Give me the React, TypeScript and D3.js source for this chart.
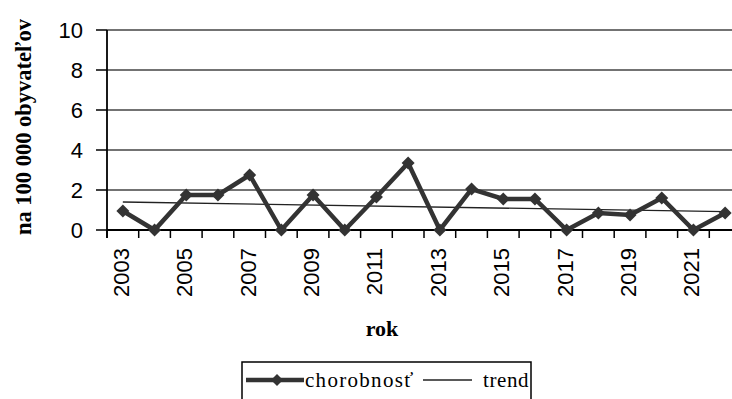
import React from "react";
import * as d3 from "d3";

// Incidence per 100 000 inhabitants, by year
const years = [2003, 2004, 2005, 2006, 2007, 2008, 2009, 2010, 2011, 2012, 2013, 2014, 2015, 2016, 2017, 2018, 2019, 2020, 2021, 2022];
const incidence = [0.95, 0, 1.75, 1.75, 2.75, 0, 1.75, 0, 1.65, 3.35, 0, 2.05, 1.55, 1.55, 0, 0.85, 0.75, 1.6, 0, 0.85];
const yTicks = [0, 2, 4, 6, 8, 10];
const labelYears = [2003, 2005, 2007, 2009, 2011, 2013, 2015, 2017, 2019, 2021];

const W = 732;
const H = 399;
const left = 107;
const top = 30;
const bottom = 230;
const step = 31.7;

export default function App() {
  const x = d3
    .scaleBand<number>()
    .domain(years)
    .range([left, left + step * years.length])
    .paddingInner(0)
    .paddingOuter(0);
  const y = d3.scaleLinear().domain([0, 10]).range([bottom, top]);
  const cx = (yr: number) => (x(yr) as number) + x.bandwidth() / 2;

  // least-squares trend over the year index
  const n = years.length;
  const idx = years.map((_, i) => i);
  const mx = d3.mean(idx) as number;
  const my = d3.mean(incidence) as number;
  const slope =
    d3.sum(idx, (i) => (i - mx) * (incidence[i] - my)) /
    d3.sum(idx, (i) => (i - mx) * (i - mx));
  const icpt = my - slope * mx;
  const trend = [0, n - 1].map((i) => ({ yr: years[i], v: icpt + slope * i }));

  const line = d3
    .line<number>()
    .x((_, i) => cx(years[i]))
    .y((d) => y(d));
  const trendLine = d3
    .line<{ yr: number; v: number }>()
    .x((d) => cx(d.yr))
    .y((d) => y(d.v));

  const diamond = (px: number, py: number, r: number) =>
    `M${px},${py - r}L${px + r},${py}L${px},${py + r}L${px - r},${py}Z`;

  const boundaries = years.map((yr) => x(yr) as number).concat([left + step * n]);

  return (
    <svg
      width={W}
      height={H}
      style={{ position: "absolute", left: 0, top: 0, background: "#fff" }}
    >
      {/* horizontal gridlines and y ticks */}
      {yTicks.map((t) => (
        <g key={t}>
          <line x1={left} x2={W} y1={y(t)} y2={y(t)} stroke="#444" strokeWidth={1.3} />
          <line x1={96} x2={left} y1={y(t)} y2={y(t)} stroke="#000" strokeWidth={1.5} />
          <text
            x={83}
            y={y(t)}
            dy="0.36em"
            textAnchor="end"
            fontFamily="Liberation Sans, Arial, sans-serif"
            fontSize={22}
            fill="#000"
          >
            {t}
          </text>
        </g>
      ))}

      {/* axes */}
      <line x1={left} x2={left} y1={top} y2={bottom + 8} stroke="#000" strokeWidth={1.8} />
      <line x1={left} x2={W} y1={bottom} y2={bottom} stroke="#000" strokeWidth={1.8} />
      {boundaries.map((bx, i) => (
        <line key={i} x1={bx} x2={bx} y1={bottom} y2={bottom + 8} stroke="#000" strokeWidth={1.5} />
      ))}

      {/* x tick labels */}
      {labelYears.map((yr) => (
        <text
          key={yr}
          transform={`translate(${cx(yr) - 2},${248}) rotate(-90)`}
          textAnchor="end"
          dy="0.36em"
          fontFamily="Liberation Sans, Arial, sans-serif"
          fontSize={22}
          fill="#000"
        >
          {yr}
        </text>
      ))}

      {/* trend */}
      <path d={trendLine(trend) as string} fill="none" stroke="#222" strokeWidth={1.3} />

      {/* incidence series */}
      <path
        d={line(incidence) as string}
        fill="none"
        stroke="#333"
        strokeWidth={4.5}
        strokeLinejoin="miter"
      />
      {incidence.map((v, i) => (
        <path key={i} d={diamond(cx(years[i]), y(v), 6.5)} fill="#333" />
      ))}

      {/* axis titles */}
      <text
        transform={`translate(23,127) rotate(-90)`}
        textAnchor="middle"
        dy="0.35em"
        fontFamily="Liberation Serif, Times New Roman, serif"
        fontWeight="bold"
        fontSize={22.5}
        fill="#000"
      >
        na 100 000 obyvateľov
      </text>
      <text
        x={382}
        y={336}
        textAnchor="middle"
        fontFamily="Liberation Serif, Times New Roman, serif"
        fontWeight="bold"
        fontSize={22}
        fill="#000"
      >
        rok
      </text>

      {/* legend */}
      <rect x={242} y={362} width={289} height={50} fill="#fff" stroke="#000" strokeWidth={1.5} />
      <line x1={246} x2={304} y1={380} y2={380} stroke="#333" strokeWidth={4.5} />
      <path d={diamond(277, 380, 6)} fill="#333" />
      <text
        x={305}
        y={387}
        fontFamily="Liberation Serif, Times New Roman, serif"
        fontSize={21}
        letterSpacing={1.3}
        fill="#000"
      >
        chorobnosť
      </text>
      <line x1={423} x2={472} y1={380} y2={380} stroke="#222" strokeWidth={1.3} />
      <text
        x={483}
        y={387}
        fontFamily="Liberation Serif, Times New Roman, serif"
        fontSize={21}
        letterSpacing={0.6}
        fill="#000"
      >
        trend
      </text>
    </svg>
  );
}
